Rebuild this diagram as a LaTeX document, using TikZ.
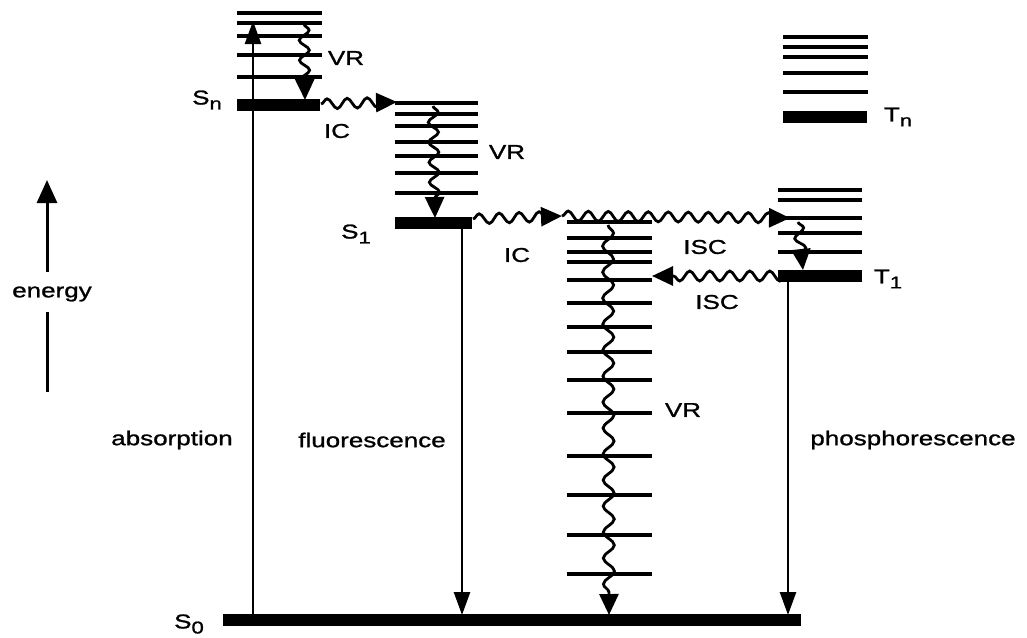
\documentclass[tikz,border=0pt]{standalone}
\usepackage{fontspec}
\setmainfont{Liberation Sans}[FakeStretch=1.3,FakeBold=1.2]
\usetikzlibrary{arrows.meta,decorations.pathmorphing}
\newcommand{\sub}[1]{\raisebox{-5pt}{\fontsize{17}{17}\selectfont #1}}
\begin{document}
\begin{tikzpicture}[x=1pt,y=-1pt,
  lvl/.style={line width=3.6pt},
  bar/.style={line width=12pt},
  radarrow/.style={line width=2.6pt,-{Triangle[length=23pt,width=16pt]}},
  plainline/.style={line width=3pt},
  enarrow/.style={line width=3pt,-{Triangle[length=23pt,width=20pt]}},
  wavearrow/.style={line width=2.8pt,decorate,
    decoration={snake,amplitude=5pt,segment length=20pt,post length=13pt},
    -{Triangle[length=21pt,width=19pt]}},
  lab/.style={font=\fontsize{20}{24}\selectfont,inner sep=0pt}]
\useasboundingbox (0,0) rectangle (1027,637);

% ---- vibrational levels (drawn directly)
\foreach \y in {13,23,36,55,77} \draw[lvl] (237,\y) -- (322,\y);
\foreach \y in {103,114,126,142,156,173,193} \draw[lvl] (395,\y) -- (478,\y);
\foreach \y in {222,238,252,262,280,303,327,352,380,413,456,495,535,574} \draw[lvl] (567,\y) -- (652,\y);
\foreach \y in {37,47,57,73,92} \draw[lvl] (783,\y) -- (868,\y);
\foreach \y in {190,200,218,233,252} \draw[lvl] (778,\y) -- (862,\y);

% ---- electronic levels
\coordinate (SnL) at (237,105); \coordinate (SnR) at (320,105);
\coordinate (S1L) at (395,223); \coordinate (S1R) at (472,223);
\coordinate (S0L) at (223,620); \coordinate (S0R) at (801,620);
\coordinate (TnL) at (783,117); \coordinate (TnR) at (867,117);
\coordinate (T1L) at (778,276); \coordinate (T1R) at (862,276);
\draw[bar] (SnL) -- (SnR);
\draw[bar] (S1L) -- (S1R);
\draw[bar] (S0L) -- (S0R);
\draw[bar] (TnL) -- (TnR);
\draw[bar] (T1L) -- (T1R);

% ---- radiative transitions
\coordinate (absA) at (253,614); \coordinate (absB) at (253,21);
\coordinate (flA) at (462,228);  \coordinate (flB) at (462,615);
\coordinate (phA) at (788,281);  \coordinate (phB) at (788,615);
\draw[radarrow] (absA) -- (absB);
\draw[radarrow] (flA) -- (flB);
\draw[radarrow] (phA) -- (phB);

% ---- non-radiative transitions
\coordinate (vr1A) at (304,24);  \coordinate (vr1B) at (305,100);
\coordinate (ic1A) at (321,104); \coordinate (ic1B) at (397,102);
\coordinate (vr2A) at (433,106); \coordinate (vr2B) at (435,218);
\coordinate (ic2A) at (473,219); \coordinate (ic2B) at (562,216);
\coordinate (iscA) at (562,216); \coordinate (iscB) at (790,218);
\coordinate (vr3A) at (798,222); \coordinate (vr3B) at (803,270);
\coordinate (isc2A) at (786,276); \coordinate (isc2B) at (652,276);
\coordinate (vr4A) at (608,225); \coordinate (vr4B) at (609,615);
\draw[wavearrow] (vr1A) -- (vr1B);
\draw[wavearrow] (ic1A) -- (ic1B);
\draw[wavearrow] (vr2A) -- (vr2B);
\draw[wavearrow] (ic2A) -- (ic2B);
\draw[wavearrow] (iscA) -- (iscB);
\draw[wavearrow,decoration={snake,amplitude=5pt,segment length=20pt,post length=9pt}] (vr3A) -- (vr3B);
\draw[wavearrow] (isc2A) -- (isc2B);
\draw[wavearrow,decoration={snake,amplitude=5.5pt,segment length=26pt,post length=13pt}] (vr4A) -- (vr4B);

% ---- energy axis
\node[lab] (en) at (52,294) {energy};
\coordinate (enA) at (47,392); \coordinate (enB) at (47,312);
\coordinate (enC) at (47,272); \coordinate (enD) at (47,180);
\draw[plainline] (enA) -- (enB);
\draw[enarrow] (enC) -- (enD);

% ---- labels
\node[lab] (lSn) at (207,100) {S\sub{n}};
\node[lab] (lS1) at (356,234) {S\sub{1}};
\node[lab] (lS0) at (189,624) {S\sub{0}};
\node[lab] (lTn) at (898,117) {T\sub{n}};
\node[lab] (lT1) at (888,279) {T\sub{1}};
\node[lab] (lvr1) at (346,58) {VR};
\node[lab] (lic1) at (337,131) {IC};
\node[lab] (lvr2) at (507,152) {VR};
\node[lab] (lic2) at (517,255) {IC};
\node[lab] (lisc1) at (705,247) {ISC};
\node[lab] (lisc2) at (717,302) {ISC};
\node[lab] (lvr4) at (683,410) {VR};
\node[lab] (labs) at (172,440) {absorption};
\node[lab] (lfl) at (372,440) {fluorescence};
\node[lab] (lph) at (913,440) {phosphorescence};
\end{tikzpicture}
\end{document}
